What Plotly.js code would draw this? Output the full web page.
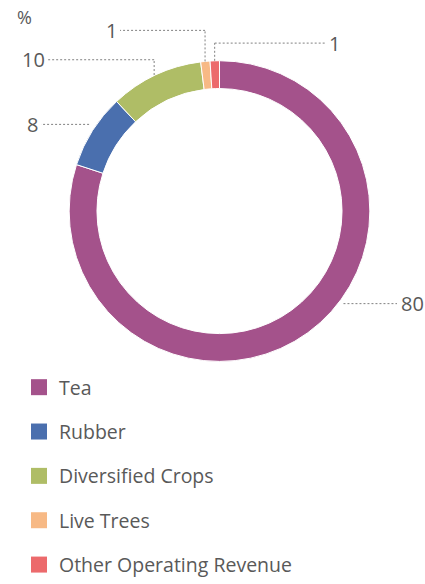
<!DOCTYPE html>
<html><head><meta charset="utf-8">
<script src="https://cdn.plot.ly/plotly-3.0.1.min.js"></script>
<style>html,body{margin:0;padding:0;background:#fff}#chart{width:425px;height:584px}</style>
</head><body><div id="chart"></div>
<script>
const categories = ['Tea', 'Rubber', 'Diversified Crops', 'Live Trees', 'Other Operating Revenue'];
const shares = [80, 8, 10, 1, 1];
const colors = ['#A4528B', '#4A6FAE', '#AFBD66', '#F7B985', '#EC6A6C'];
const unitLabel = '%';

const W = 425, H = 584;
const cx = 219.5, cy = 215.5, rOut = 153.5, holeFrac = 0.815;
const px = x => x / W, py = y => 1 - y / H;
const FONT = 'Open Sans, sans-serif';
const TXT = '#595959';

// label placement (layout only)
const labelPlace = [
  {x: 399, y: 310, anchor: 'left', style: 'h'},
  {x: 40, y: 127, anchor: 'right', style: 'h'},
  {x: 47, y: 61, anchor: 'right', style: 'elbow'},
  {x: 119, y: 31, anchor: 'right', style: 'elbow'},
  {x: 327, y: 44, anchor: 'left', style: 'elbow'}
];

const total = shares.reduce((a, b) => a + b, 0);
const shapes = [], annotations = [];
let cum = 0;
const lineStyle = {color: '#808080', width: 1, dash: '2px,2px'};
shares.forEach((v, i) => {
  const mid = (cum + v / 2) / total * 2 * Math.PI;
  cum += v;
  const L = labelPlace[i];
  const endX = L.anchor === 'left' ? L.x - 2 : L.x + 1;
  if (L.style === 'h') {
    const dy = L.y - cy;
    const dx = Math.sqrt(Math.max(rOut * rOut - dy * dy, 0));
    const ringX = L.anchor === 'left' ? cx + dx + 3 : cx - dx - 5;
    shapes.push({type: 'line', xref: 'paper', yref: 'paper', x0: px(ringX), y0: py(L.y), x1: px(endX), y1: py(L.y), line: lineStyle});
  } else {
    const ax = cx + rOut * Math.sin(mid), ay = cy - rOut * Math.cos(mid);
    shapes.push({type: 'line', xref: 'paper', yref: 'paper', x0: px(ax), y0: py(ay), x1: px(ax), y1: py(L.y), line: lineStyle});
    shapes.push({type: 'line', xref: 'paper', yref: 'paper', x0: px(ax), y0: py(L.y), x1: px(endX), y1: py(L.y), line: lineStyle});
  }
  annotations.push({xref: 'paper', yref: 'paper', x: px(L.x), y: py(L.y), xanchor: L.anchor, yanchor: 'middle',
    text: String(v), showarrow: false, font: {family: FONT, size: 20, color: TXT}});
});
annotations.push({xref: 'paper', yref: 'paper', x: px(15), y: py(17), xanchor: 'left', yanchor: 'middle',
  text: unitLabel, showarrow: false, font: {family: FONT, size: 18, color: TXT}});

const pie = {
  type: 'pie', values: shares, labels: categories, sort: false, direction: 'clockwise', rotation: 0,
  hole: holeFrac, textinfo: 'none', showlegend: false,
  marker: {colors: colors, line: {color: '#ffffff', width: 1}},
  domain: {x: [px(cx - rOut), px(cx + rOut)], y: [py(cy + rOut), py(cy - rOut)]}
};
const legendTraces = categories.map((c, i) => ({
  type: 'scatter', mode: 'markers', x: [null], y: [null], name: c, legendgroup: 'g' + i,
  marker: {symbol: 'square', size: 16, color: colors[i]}, showlegend: true, hoverinfo: 'skip'
}));

const layout = {
  width: W, height: H, margin: {l: 0, r: 0, t: 0, b: 0},
  paper_bgcolor: '#ffffff', plot_bgcolor: 'rgba(0,0,0,0)',
  xaxis: {visible: false}, yaxis: {visible: false},
  showlegend: true,
  legend: {x: px(19), y: py(376), xanchor: 'left', yanchor: 'top', traceorder: 'grouped', tracegroupgap: 16,
    font: {family: FONT, size: 19.5, color: TXT}, bgcolor: 'rgba(0,0,0,0)'},
  shapes: shapes, annotations: annotations
};
Plotly.newPlot('chart', [pie].concat(legendTraces), layout, {displayModeBar: false, staticPlot: true});
</script></body></html>
